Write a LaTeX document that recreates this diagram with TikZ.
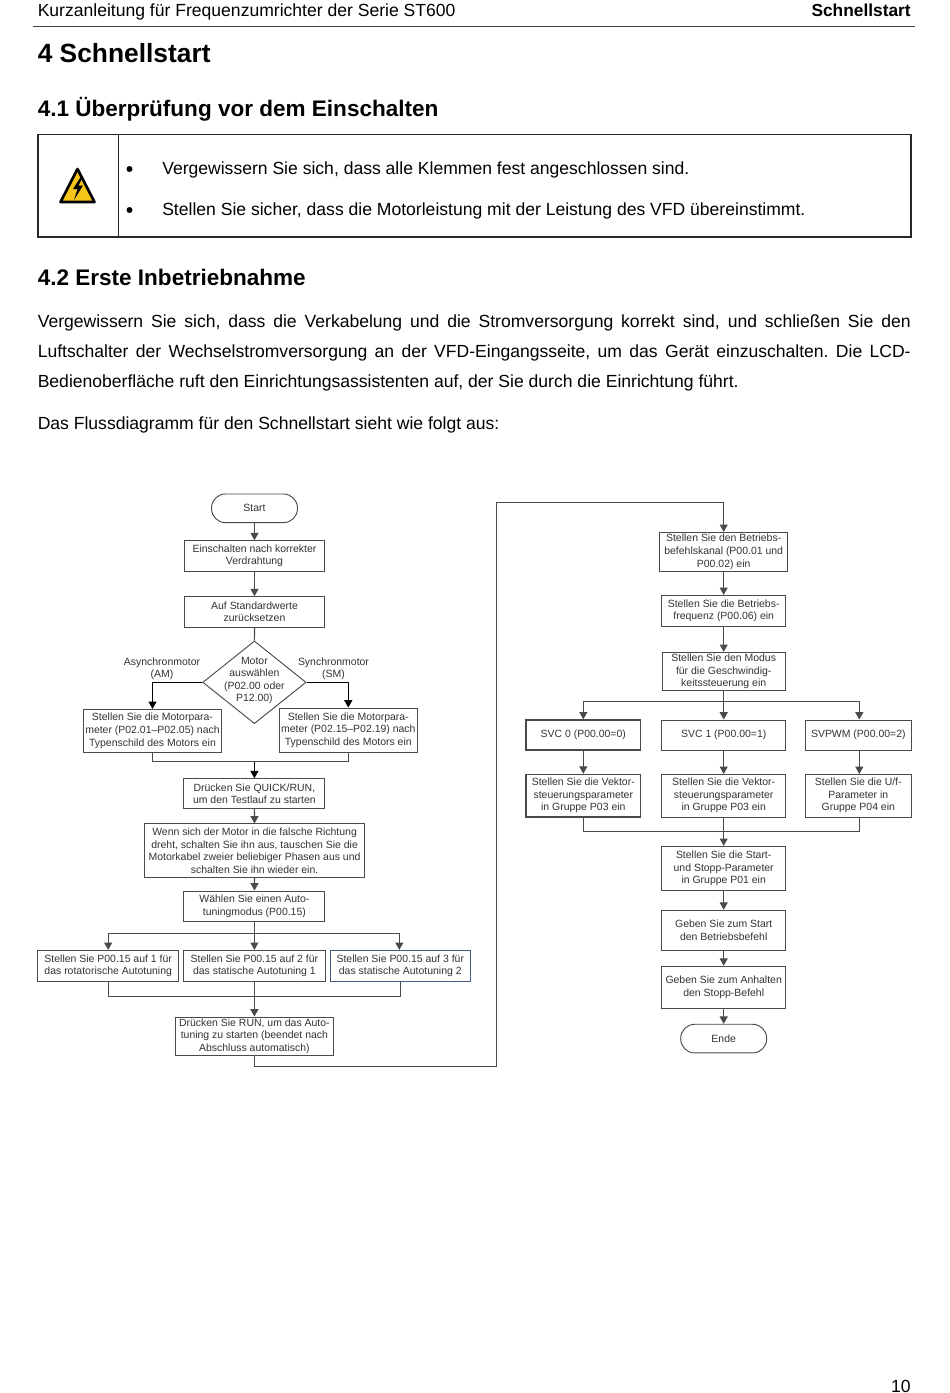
\documentclass[tikz,border=0pt]{standalone}
\usepackage{fontspec}
\setmainfont{Liberation Sans}
\usetikzlibrary{shapes.geometric,arrows.meta}
\definecolor{linecol}{HTML}{4A4A4A}
\definecolor{bluecol}{HTML}{3F5F85}
\definecolor{warnyellow}{HTML}{F5C518}
\tikzset{
  x=0.75pt,y=-0.75pt,
  flow/.style={font=\fontsize{7.85}{9.4}\selectfont,text=black!80,align=center,inner sep=0pt},
  rbox/.style={flow,draw=linecol,line width=0.7pt,fill=white},
  term/.style={rbox,rounded corners=10.5pt},
  arr/.style={draw=linecol,line width=0.8pt,-{Triangle[length=5.5pt,width=6pt]}},
  arrb/.style={draw=black,line width=0.8pt,-{Triangle[length=5.5pt,width=6pt]}},
  lin/.style={draw=linecol,line width=0.8pt},
  bodytext/.style={font=\fontsize{13.17}{13.17}\selectfont,anchor=base west,inner sep=0pt},
  h1text/.style={font=\bfseries\fontsize{19.77}{19.77}\selectfont,anchor=base west,inner sep=0pt},
  h2text/.style={font=\bfseries\fontsize{16.9}{16.9}\selectfont,anchor=base west,inner sep=0pt},
}
\newcommand{\jline}[3]{\node[bodytext] (#1) at (37.5,#2) {\frenchspacing\makebox[654.7pt][s]{#3}};}
\begin{document}
\begin{tikzpicture}
\useasboundingbox (0,0) rectangle (950,1393);
\fill[white] (0,0) rectangle (950,1393);
% header
\node[bodytext] (hl) at (37.5,16) {Kurzanleitung für Frequenzumrichter der Serie ST600};
\node[bodytext,anchor=base east,font=\bfseries\fontsize{13}{13}\selectfont] (hr) at (911,16) {Schnellstart};
\coordinate (ha) at (33,26); \coordinate (hb) at (915,26);
\draw[black!75,line width=0.7pt] (ha) -- (hb);
\node[h1text] (t1) at (37.5,62) {4 Schnellstart};
\node[h2text] (t2) at (37.5,116) {4.1 Überprüfung vor dem Einschalten};
% warning table
\draw[black!85,line width=0.85pt] (38,134.5) rectangle (911,237);
\draw[black!85,line width=0.7pt] (118.5,134.5) -- (118.5,237);
\draw[draw=black,line width=2pt,fill=warnyellow,line join=round] (77.5,169) -- (94.5,202) -- (60.5,202) -- cycle;
\fill[black] (81,176.5) -- (73,189) -- (77.5,189) -- (74,200) -- (83,185.5) -- (78.5,185.5) -- (83,176.5) -- cycle;
\fill[black] (129.5,169) circle (3);
\fill[black] (129.5,210) circle (3);
\node[bodytext] (b1) at (162,174) {Vergewissern Sie sich, dass alle Klemmen fest angeschlossen sind.};
\node[bodytext] (b2) at (162,215) {Stellen Sie sicher, dass die Motorleistung mit der Leistung des VFD übereinstimmt.};
\node[h2text] (t3) at (37.5,285) {4.2 Erste Inbetriebnahme};
\jline{p1}{327}{Vergewissern Sie sich, dass die Verkabelung und die Stromversorgung korrekt sind, und schließen Sie den}
\jline{p2}{357}{Luftschalter der Wechselstromversorgung an der VFD-Eingangsseite, um das Gerät einzuschalten. Die LCD-}
\node[bodytext] (p3) at (37.5,387) {Bedienoberfläche ruft den Einrichtungsassistenten auf, der Sie durch die Einrichtung führt.};
\node[bodytext] (p4) at (37.5,429) {Das Flussdiagramm für den Schnellstart sieht wie folgt aus:};
\node[bodytext,anchor=base east] (pg) at (911,1392) {10};
% left column
\node[term,minimum width=64.5pt,minimum height=21.5pt] (start) at (254.5,508.3) {Start};
\node[rbox,minimum width=105.3pt,minimum height=23pt] (ein) at (254.5,556) {Einschalten nach korrekter\\Verdrahtung};
\node[rbox,minimum width=105.3pt,minimum height=22.8pt] (std) at (254.5,611.8) {Auf Standardwerte\\zurücksetzen};
\node[rbox,diamond,aspect=1.25,minimum width=77.5pt,minimum height=62pt,inner sep=0pt] (mot) at (254.4,682.3) {};
\node[flow] (motl) at (254.4,680.5) {Motor\\auswählen\\(P02.00 oder\\P12.00)};
\node[rbox,minimum width=103.2pt,minimum height=32.2pt] (am) at (152.5,730.8) {Stellen Sie die Motorpara-\\meter (P02.01–P02.05) nach\\Typenschild des Motors ein};
\node[rbox,minimum width=103pt,minimum height=33pt] (sm) at (348.3,730) {Stellen Sie die Motorpara-\\meter (P02.15–P02.19) nach\\Typenschild des Motors ein};
\node[flow] (lam) at (162,669) {Asynchronmotor\\(AM)};
\node[flow] (lsm) at (333.5,669) {Synchronmotor\\(SM)};
\coordinate (mrg) at (254.4,761.7);
\node[rbox,minimum width=105.8pt,minimum height=22.5pt] (qr) at (254.4,793.7) {Drücken Sie QUICK/RUN,\\um den Testlauf zu starten};
\node[rbox,minimum width=165.5pt,minimum height=40pt] (wenn) at (254.6,850.6) {Wenn sich der Motor in die falsche Richtung\\dreht, schalten Sie ihn aus, tauschen Sie die\\Motorkabel zweier beliebiger Phasen aus und\\schalten Sie ihn wieder ein.};
\node[rbox,minimum width=105.8pt,minimum height=23pt] (wa) at (254.4,906.3) {Wählen Sie einen Auto-\\tuningmodus (P00.15)};
\coordinate (brl) at (254.4,933.7);
\node[rbox,minimum width=105.7pt,minimum height=23.2pt] (a1) at (108.2,965.8) {Stellen Sie P00.15 auf 1 für\\das rotatorische Autotuning};
\node[rbox,minimum width=106.7pt,minimum height=23.2pt] (a2) at (254.4,965.8) {Stellen Sie P00.15 auf 2 für\\das statische Autotuning 1};
\node[rbox,draw=bluecol,minimum width=105pt,minimum height=23.2pt] (a3) at (400.3,965.8) {Stellen Sie P00.15 auf 3 für\\das statische Autotuning 2};
\coordinate (mr2) at (254.4,996.7);
\node[rbox,minimum width=118pt,minimum height=28.5pt] (run) at (254.4,1036) {Drücken Sie RUN, um das Auto-\\tuning zu starten (beendet nach\\Abschluss automatisch)};
% right column
\node[rbox,minimum width=96pt,minimum height=29.2pt] (kan) at (723.7,551.8) {Stellen Sie den Betriebs-\\befehlskanal (P00.01 und\\P00.02) ein};
\node[rbox,minimum width=92.8pt,minimum height=23.2pt] (frq) at (723.7,610.8) {Stellen Sie die Betriebs-\\frequenz (P00.06) ein};
\node[rbox,minimum width=92.2pt,minimum height=28.5pt] (mod) at (723.7,671.3) {Stellen Sie den Modus\\für die Geschwindig-\\keitssteuerung ein};
\coordinate (brr) at (723.7,701.3);
\node[rbox,line width=1pt,minimum width=86pt,minimum height=22.5pt] (s0) at (583.3,735) {SVC 0 (P00.00=0)};
\node[rbox,minimum width=92.8pt,minimum height=22.5pt] (s1) at (723.7,735) {SVC 1 (P00.00=1)};
\node[rbox,minimum width=79.5pt,minimum height=22.5pt] (s2) at (858.3,735) {SVPWM (P00.00=2)};
\node[rbox,line width=1pt,minimum width=86pt,minimum height=32pt] (p0) at (583.3,795.7) {Stellen Sie die Vektor-\\steuerungsparameter\\in Gruppe P03 ein};
\node[rbox,minimum width=92.8pt,minimum height=32pt] (p1b) at (723.7,795.7) {Stellen Sie die Vektor-\\steuerungsparameter\\in Gruppe P03 ein};
\node[rbox,minimum width=79.5pt,minimum height=32pt] (p2b) at (858.3,795.7) {Stellen Sie die U/f-\\Parameter in\\Gruppe P04 ein};
\coordinate (mr3) at (723.7,831.7);
\node[rbox,minimum width=92.8pt,minimum height=33pt] (ss) at (723.7,868.3) {Stellen Sie die Start-\\und Stopp-Parameter\\in Gruppe P01 ein};
\node[rbox,minimum width=92.8pt,minimum height=30.5pt] (gs) at (723.7,930.5) {Geben Sie zum Start\\den Betriebsbefehl};
\node[rbox,minimum width=92.8pt,minimum height=32pt] (gh) at (723.7,987.5) {Geben Sie zum Anhalten\\den Stopp-Befehl};
\node[term,minimum width=64.5pt,minimum height=21.5pt] (ende) at (723.7,1038.6) {Ende};
% connectors left
\draw[arr] (start) -- (ein);
\draw[arr] (ein) -- (std);
\draw[lin] (std) -- (mot);
\draw[arrb] (mot.west) -| (am.north);
\draw[arrb] (mot.east) -| (sm.north);
\draw[lin] (am.south) |- (mrg);
\draw[lin] (sm.south) |- (mrg);
\draw[arrb] (mrg) -- (qr);
\draw[arr] (qr) -- (wenn);
\draw[arr] (wenn) -- (wa);
\draw[arr] (wa) -- (a2);
\draw[arr] (brl) -| (a1.north);
\draw[arr] (brl) -| ([xshift=-0.75pt]a3.north);
\draw[lin] (a1.south) |- (mr2);
\draw[lin] (a3.south) |- (mr2);
\draw[arr] (a2) -- (run);
\coordinate (lc1) at (496.3,1066);
\coordinate (lc2) at (496.3,502.3);
\draw[arr,line width=0.7pt] (run.south) |- (lc1) -- (lc2) -| (kan.north);
% connectors right
\draw[arr] (kan) -- (frq);
\draw[arr] (frq) -- (mod);
\draw[lin] (mod) -- (brr);
\draw[arr] (brr) -| (s0.north);
\draw[arr] (brr) -- (s1);
\draw[arr] (brr) -| ([xshift=0.75pt]s2.north);
\draw[arr] (s0) -- (p0);
\draw[arr] (s1) -- (p1b);
\draw[arr] ([xshift=0.75pt]s2.south) -- ([xshift=0.75pt]p2b.north);
\draw[lin] (p0.south) |- (mr3);
\draw[lin] ([xshift=0.75pt]p2b.south) |- (mr3);
\draw[lin] (p1b) -- (mr3);
\draw[arr] (mr3) -- (ss);
\draw[arr] (ss) -- (gs);
\draw[arr] (gs) -- (gh);
\draw[arr] (gh) -- (ende);
\end{tikzpicture}
\end{document}
